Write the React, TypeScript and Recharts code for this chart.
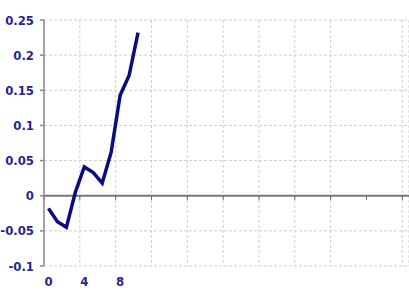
import { LineChart, Line, XAxis, YAxis, CartesianGrid, ReferenceLine } from "recharts"

const steps = [0, 1, 2, 3, 4, 5, 6, 7, 8, 9, 10]
const values = [-0.018, -0.037, -0.045, 0.005, 0.041, 0.033, 0.018, 0.062, 0.143, 0.171, 0.232]
const yTicks = [-0.1, -0.05, 0, 0.05, 0.1, 0.15, 0.2, 0.25]
const labelTicks = [0, 4, 8]
const gridTicks = [-0.5, 3.5, 7.5, 11.5, 15.5, 19.5, 23.5, 27.5, 31.5, 35.5, 39.5]

const data = steps.map((x, i) => ({ x, value: values[i] }))

const font = {
  fontSize: 13,
  fontWeight: 700,
  fill: "#262690",
  fontFamily: "'DejaVu Sans Condensed', 'DejaVu Sans', sans-serif",
  fontStretch: "condensed",
}

export default function App() {
  return (
    <div style={{ position: "absolute", left: 0, top: 0, background: "#fff" }}>
      <LineChart width={409} height={291} data={data} margin={{ top: 20, right: 0, bottom: 0, left: 0 }}>
        <CartesianGrid xAxisId="grid" stroke="#cfcfcf" strokeDasharray="3 2" />
        <XAxis
          xAxisId="grid"
          type="number"
          dataKey="x"
          domain={[-0.5, 40.25]}
          ticks={gridTicks}
          height={0}
          hide
        />
        <XAxis
          xAxisId="labels"
          type="number"
          dataKey="x"
          domain={[-0.5, 40.25]}
          ticks={labelTicks}
          axisLine={false}
          tickLine={false}
          tickSize={0}
          tickMargin={11}
          height={25}
          tick={font}
        />
        <YAxis
          domain={[-0.1, 0.25]}
          ticks={yTicks}
          width={44}
          stroke="#888"
          strokeWidth={1.5}
          tickSize={4}
          tickMargin={6}
          tick={font}
        />
        <ReferenceLine xAxisId="grid" y={0} stroke="#777" strokeWidth={2} />
        {gridTicks.map((t) => (
          <ReferenceLine
            key={t}
            xAxisId="grid"
            segment={[{ x: t, y: 0 }, { x: t, y: -0.006 }]}
            stroke="#666"
            strokeWidth={1}
          />
        ))}
        <Line
          xAxisId="grid"
          type="linear"
          dataKey="value"
          stroke="#0c0c82"
          strokeWidth={3.5}
          dot={false}
          isAnimationActive={false}
        />
      </LineChart>
    </div>
  )
}
